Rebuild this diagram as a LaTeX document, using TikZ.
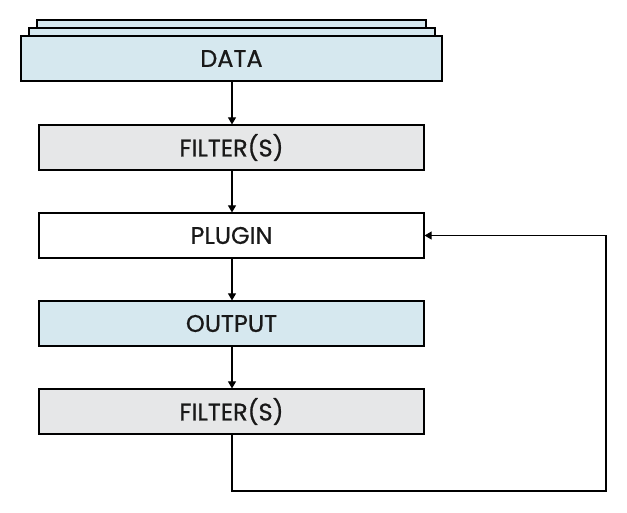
\documentclass[tikz,border=0pt]{standalone}
\usepackage{fontspec}
\setmainfont{Poppins}[FakeBold=0.8]
\usetikzlibrary{arrows.meta}
\definecolor{bluefill}{HTML}{D6E8EF}
\definecolor{grayfill}{HTML}{E6E7E8}
\begin{document}
\begin{tikzpicture}[x=1pt,y=-1pt,
  boxstyle/.style={draw=black, line width=1.2pt, minimum width=385pt, minimum height=45pt, inner sep=0pt, font=\fontsize{24}{27}\selectfont, text=black!90},
  layer/.style={draw=black, line width=1.2pt, fill=bluefill},
  conn/.style={draw=black, line width=1.1pt, -{Triangle[length=7pt,width=8pt]}}]
\useasboundingbox (0,0) rectangle (627,512);
\draw[layer] (37,20) rectangle (426,28);
\draw[layer] (29,28) rectangle (435,36);
\node[boxstyle, fill=bluefill, minimum width=421pt] (data) at (231.5,58.5) {DATA};
\node[boxstyle, fill=grayfill] (f1) at (231.5,147.5) {FILTER(S)};
\node[boxstyle, fill=white] (plugin) at (231.5,235.5) {PLUGIN};
\node[boxstyle, fill=bluefill] (out) at (231.5,323.5) {OUTPUT};
\node[boxstyle, fill=grayfill] (f2) at (231.5,411.5) {FILTER(S)};
\coordinate (c1) at (232,491);
\coordinate (c2) at (606,491);
\draw[conn] (data.south -| 232,0) -- (f1.north -| 232,0);
\draw[conn] (f1.south -| 232,0) -- (plugin.north -| 232,0);
\draw[conn] (plugin.south -| 232,0) -- (out.north -| 232,0);
\draw[conn] (out.south -| 232,0) -- (f2.north -| 232,0);
\draw[conn] (f2.south -| c1) -- (c1) -- (c2) |- (plugin.east);
\end{tikzpicture}
\end{document}
